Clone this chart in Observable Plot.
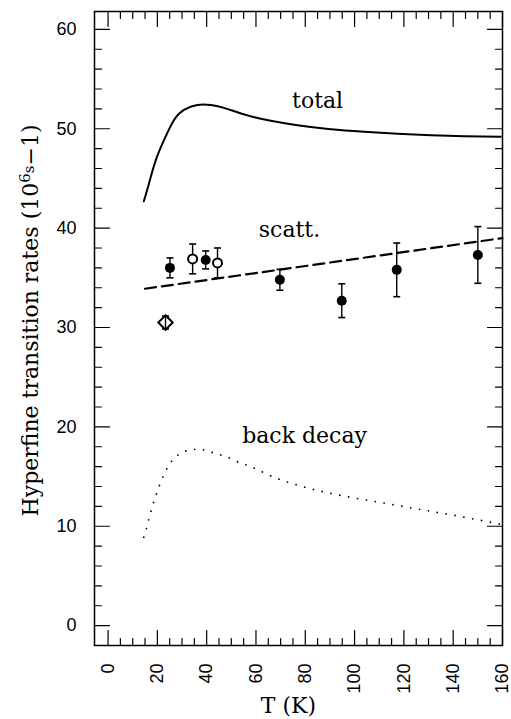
<!DOCTYPE html>
<html><head><meta charset="utf-8">
<script src="https://cdn.jsdelivr.net/npm/d3@7"></script>
<script src="https://cdn.jsdelivr.net/npm/@observablehq/plot@0.6"></script>
<style>body{margin:0;background:#fff}</style>
</head><body><div id="chart"></div>
<script>
// total rate curve
const totalT    = [14.5,16.6,19.3,22.6,26.7,30.8,36.2,41.6,47,56.5,66,76.8,90.3,103.8,117.4,130.9,144.4,159.3];
const totalRate = [42.7,44.5,46.8,48.8,50.85,51.9,52.4,52.4,52.1,51.35,50.8,50.35,49.95,49.7,49.5,49.35,49.25,49.2];
// back decay curve
const backT    = [14.5,15.6,16.6,17.5,18.6,21.0,24.1,26.3,29.1,32.8,36.4,40.3,43.6,47.7,51,57.8,68.7,79.5,94.4,109.2,124.1,140.3,159.3];
const backRate = [8.9,9.8,10.8,11.6,12.5,14.2,15.9,16.7,17.3,17.65,17.75,17.6,17.3,17.05,16.65,16.0,14.8,13.95,13.1,12.45,11.8,11.1,10.2];
// scattering (dashed straight line)
const scattT    = [15,160];
const scattRate = [33.9,39.0];
// measured points: filled circles
const filledT    = [25.1,39.6,69.7,94.8,117.1,150];
const filledRate = [36.0,36.8,34.8,32.7,35.8,37.3];
const filledErr  = [1.0,0.9,1.05,1.7,2.7,2.85];
// open circles
const openT    = [34.3,44.4];
const openRate = [36.9,36.5];
const openErr  = [1.5,1.5];
// open diamond
const diamT    = [23.3];
const diamRate = [30.5];
const diamErr  = [0.65];
// ticks
const xTickLabels = [0,20,40,60,80,100,120,140,160];
const yTickLabels = [0,10,20,30,40,50,60];
const xMinorStep = 5, yMinorStep = 2;
// texts
const curveLabels = [
  {text:"total", t:85.0, r:52.1},
  {text:"scatt.", t:73.6, r:39.06},
  {text:"back decay", t:79.7, r:18.33}
];
const xTitle = "T (K)";
const yTitle = "Hyperfine transition rates (10^6s−1)";

const xMinor = d3.range(0,160.001,xMinorStep).filter(v => !xTickLabels.includes(v));
const yMinor = d3.range(0,60.001,yMinorStep).filter(v => !yTickLabels.includes(v));

const mk = (T,R,E) => T.map((t,i)=>({t, r:R[i], e:E ? E[i] : 0}));
const total = mk(totalT,totalRate), back = mk(backT,backRate), scatt = mk(scattT,scattRate);
const filled = mk(filledT,filledRate,filledErr), open = mk(openT,openRate,openErr), diam = mk(diamT,diamRate,diamErr);
const allPts = [...filled, ...open, ...diam];

const tickShape = {draw(ctx, l){ ctx.moveTo(0,0); ctx.lineTo(0,-l); }};
const capSym = {draw(ctx){ ctx.moveTo(-3.5,0); ctx.lineTo(3.5,0); }};

const tickSet = (vals, len, side) => {
  const base = {length: len, anchor:"start", shape: tickShape, stroke:"black", strokeWidth:1.2};
  if (side==="bottom") return Plot.vectorX(vals, {...base, frameAnchor:"bottom", rotate:0});
  if (side==="top") return Plot.vectorX(vals, {...base, frameAnchor:"top", rotate:180});
  if (side==="left") return Plot.vectorY(vals, {...base, frameAnchor:"left", rotate:90});
  return Plot.vectorY(vals, {...base, frameAnchor:"right", rotate:-90});
};

const serif = "DejaVu Serif";
const sans = "Liberation Sans";

const chart = Plot.plot({
  width: 511, height: 719,
  marginLeft: 94, marginRight: 9, marginTop: 11, marginBottom: 74,
  x: {domain: [-5.5, 160], axis: null},
  y: {domain: [-2, 61.8], axis: null},
  marks: [
    Plot.frame({stroke:"black", strokeWidth:1.5}),
    ...["bottom","top"].flatMap(s => [tickSet(xTickLabels, 15, s), tickSet(xMinor, 7, s)]),
    ...["left","right"].flatMap(s => [tickSet(yTickLabels, 15, s), tickSet(yMinor, 7, s)]),
    Plot.text(xTickLabels, {x: d=>d, frameAnchor:"bottom", dy: 18, rotate:-90, textAnchor:"end", lineAnchor:"middle", fontFamily:sans, fontSize:18, fill:"black"}),
    Plot.text(yTickLabels, {y: d=>d, frameAnchor:"left", dx:-18, textAnchor:"end", lineAnchor:"middle", fontFamily:sans, fontSize:18, fill:"black"}),
    Plot.line(total, {x:"t", y:"r", curve:"natural", stroke:"black", strokeWidth:2}),
    Plot.line(scatt, {x:"t", y:"r", stroke:"black", strokeWidth:2.2, strokeDasharray:"11,6"}),
    Plot.line(back, {x:"t", y:"r", curve:"monotone-x", stroke:"black", strokeWidth:1.8, strokeDasharray:"0,9", strokeLinecap:"round"}),
    Plot.ruleX(allPts, {x:"t", y1:d=>d.r-d.e, y2:d=>d.r+d.e, stroke:"black", strokeWidth:1.4}),
    Plot.dot(allPts, {x:"t", y:d=>d.r-d.e, symbol:capSym, stroke:"black", strokeWidth:1.6, r:3}),
    Plot.dot(allPts, {x:"t", y:d=>d.r+d.e, symbol:capSym, stroke:"black", strokeWidth:1.6, r:3}),
    Plot.dot(filled, {x:"t", y:"r", r:5, fill:"black", stroke:"none"}),
    Plot.dot(open, {x:"t", y:"r", r:4.5, fill:"white", stroke:"black", strokeWidth:2}),
    Plot.dot(diam, {x:"t", y:"r", symbol:"diamond2", r:6.5, fill:"white", stroke:"black", strokeWidth:2}),
    Plot.ruleX(diam, {x:"t", y1:d=>d.r-d.e, y2:d=>d.r+d.e, stroke:"black", strokeWidth:1.4}),
    Plot.text(curveLabels, {x:"t", y:"r", text:"text", lineAnchor:"bottom", fontFamily:serif, fontSize:22, fill:"black"}),
    Plot.text([xTitle], {frameAnchor:"bottom", dx:-10, dy:67, textAnchor:"middle", lineAnchor:"bottom", fontFamily:serif, fontSize:22, fill:"black"}),
    Plot.text([yTitle], {frameAnchor:"left", dx:-57, dy:-8, rotate:-90, textAnchor:"middle", lineAnchor:"bottom", fontFamily:serif, fontSize:22, fill:"black", className:"ytitle"})
  ]
});
document.getElementById("chart").appendChild(chart);

// render exponent parts of the y title as tspans
d3.select(chart).selectAll(".ytitle text").each(function(){
  const el = d3.select(this);
  el.text(null);
  el.append("tspan").text("Hyperfine transition rates (10");
  el.append("tspan").attr("font-size","15").attr("dy","-8").text("6");
  el.append("tspan").attr("font-size","15").attr("dy","4").text("s");
  el.append("tspan").attr("dy","4").text("−1)");
});
</script>
</body></html>
